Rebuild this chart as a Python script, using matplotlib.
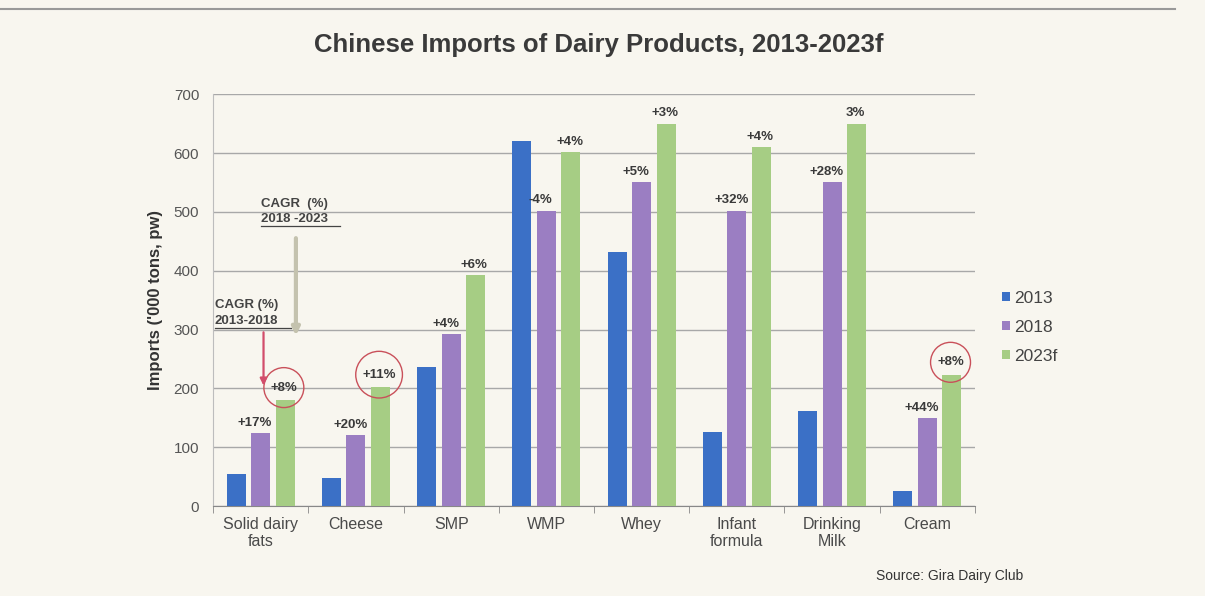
import matplotlib
matplotlib.use("Agg")
import matplotlib.pyplot as plt
import numpy as np

categories = ["Solid dairy\nfats", "Cheese", "SMP", "WMP", "Whey",
              "Infant\nformula", "Drinking\nMilk", "Cream"]
series_names = ["2013", "2018", "2023f"]
imports_2013 = [55, 48, 237, 620, 432, 126, 162, 25]
imports_2018 = [124, 120, 292, 502, 551, 502, 551, 150]
imports_2023 = [180, 202, 392, 601, 650, 610, 650, 223]
cagr_13_18 = ["+17%", "+20%", "+4%", "-4%", "+5%", "+32%", "+28%", "+44%"]
cagr_18_23 = ["+8%", "+11%", "+6%", "+4%", "+3%", "+4%", "3%", "+8%"]
circled = [True, True, False, False, False, False, False, True]
y_ticks = [0, 100, 200, 300, 400, 500, 600, 700]

colors = ["#3b70c6", "#9b7ec2", "#a6cd84"]
bg = "#f8f6ef"
text_col = "#4a4a4a"

plt.rcParams["font.family"] = ["Liberation Sans", "DejaVu Sans"]

fig = plt.figure(figsize=(12.05, 5.96), dpi=100, facecolor=bg)
ax = fig.add_axes([0.1768, 0.151, 0.6323, 0.691], facecolor=bg)

x = np.arange(len(categories))
w = 0.2
step = 0.258
series = [imports_2013, imports_2018, imports_2023]
for i, (vals, c, name) in enumerate(zip(series, colors, series_names)):
    ax.bar(x + (i - 1) * step, vals, width=w, color=c, label=name, zorder=3)

ax.set_xlim(-0.5, len(categories) - 0.5)
ax.set_ylim(0, 700)
ax.set_yticks(y_ticks)
ax.yaxis.grid(True, color="#a8a8a8", lw=1.0, zorder=0)
ax.tick_params(axis="y", length=0, labelsize=11, colors="#555555", pad=10)
ax.set_xticks(x)
ax.set_xticklabels(categories, fontsize=11.5, color=text_col, linespacing=1.15)
ax.tick_params(axis="x", length=0, pad=8)
ax.set_xticks(np.arange(-0.5, len(categories), 1.0), minor=True)
ax.tick_params(axis="x", which="minor", length=5, color="#888888", direction="out")
for s in ["top", "right"]:
    ax.spines[s].set_visible(False)
ax.spines["left"].set_color("#bdbdbd")
ax.spines["bottom"].set_color("#888888")

ax.set_ylabel("Imports ('000 tons, pw)", fontsize=12, color="#333333",
              fontweight="bold", labelpad=8)

# CAGR labels above the 2018 and 2023f bars
for i in range(len(categories)):
    ax.annotate(cagr_13_18[i], (x[i], imports_2018[i]),
                xytext=(-4, 3), textcoords="offset points",
                ha="center", va="bottom", fontsize=9.5, fontweight="bold",
                color="#3a3a3a", zorder=5)
    if circled[i]:
        ax.annotate(cagr_18_23[i], (x[i] + step, imports_2023[i]),
                    xytext=(-1, 9), textcoords="offset points",
                    ha="center", va="center", fontsize=9.5, fontweight="bold",
                    color="#3a3a3a", zorder=5,
                    bbox=dict(boxstyle="circle,pad=0.5", fc="none",
                              ec="#c9505a", lw=1.0))
    else:
        ax.annotate(cagr_18_23[i], (x[i] + step, imports_2023[i]),
                    xytext=(-1, 3), textcoords="offset points",
                    ha="center", va="bottom", fontsize=9.5, fontweight="bold",
                    color="#3a3a3a", zorder=5)

# explanatory notes with arrows
ax.text(-0.48, 305, "CAGR (%)\n2013-2018", fontsize=9.5, fontweight="bold",
        color="#444444", ha="left", va="bottom", linespacing=1.45, zorder=5)
ax.plot([-0.48, 0.32], [303, 303], color="#444444", lw=0.9, zorder=5)
ax.annotate("", xy=(0.03, 200), xytext=(0.03, 300),
            arrowprops=dict(arrowstyle="-|>", color="#d24d6b", lw=1.6,
                            mutation_scale=10), zorder=5)

ax.text(0.0, 478, "CAGR  (%)\n2018 -2023", fontsize=9.5, fontweight="bold",
        color="#444444", ha="left", va="bottom", linespacing=1.3, zorder=5)
ax.plot([0.0, 0.83], [476, 476], color="#444444", lw=0.9, zorder=5)
ax.annotate("", xy=(0.37, 285), xytext=(0.37, 460),
            arrowprops=dict(arrowstyle="-|>", color="#c4c2ae", lw=3.0,
                            mutation_scale=11), zorder=5)

leg = ax.legend(loc="upper left", bbox_to_anchor=(1.015, 0.56), frameon=False,
                fontsize=12.5, handlelength=0.45, handleheight=0.45,
                handletextpad=0.25, labelspacing=0.8)
for t in leg.get_texts():
    t.set_color("#444444")

fig.text(0.497, 0.924, "Chinese Imports of Dairy Products, 2013-2023f",
         ha="center", va="center", fontsize=18.5, fontweight="bold",
         color="#3a3a3a")
fig.text(0.727, 0.033, "Source: Gira Dairy Club", ha="left", va="center",
         fontsize=10, color="#333333")

# page rule at the top
fig.add_artist(plt.Line2D([0.0, 0.975], [0.985, 0.985], color="#999999",
                          lw=1.5, transform=fig.transFigure))

fig.savefig("out.png", dpi=100, facecolor=bg)
